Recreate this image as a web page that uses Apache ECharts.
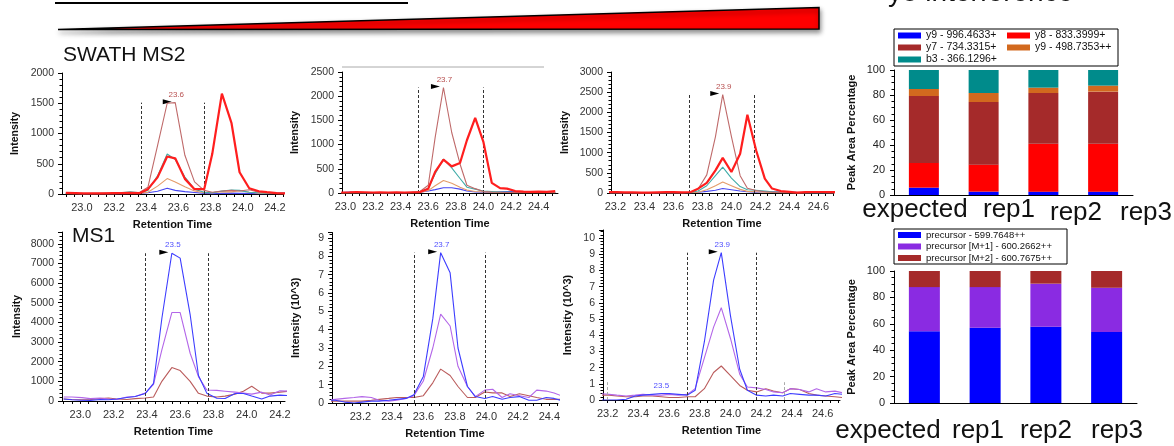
<!DOCTYPE html>
<html><head><meta charset="utf-8">
<script src="https://cdn.jsdelivr.net/npm/echarts@6/dist/echarts.min.js"></script>
<style>html,body{margin:0;padding:0;background:#fff}#c{width:1174px;height:446px}</style>
</head><body><div id="c"></div>
<script>
const FONT = "'Liberation Sans', Arial, sans-serif";

// ---------- axis tick labels ----------
const xLabelValues = [23.0, 23.2, 23.4, 23.6, 23.8, 24.0, 24.2, 24.4, 24.6];
const xTickValues = [22.9,22.95,23.0,23.05,23.1,23.15,23.2,23.25,23.3,23.35,23.4,23.45,23.5,23.55,23.6,23.65,23.7,23.75,23.8,23.85,23.9,23.95,24.0,24.05,24.1,24.15,24.2,24.25,24.3,24.35,24.4,24.45,24.5,24.55,24.6,24.65,24.7];

// ---------- SWATH MS2, rep1 ----------
const t1 = [22.90,22.96,23.01,23.07,23.13,23.19,23.24,23.30,23.36,23.41,23.47,23.53,23.58,23.64,23.70,23.76,23.81,23.87,23.93,23.98,24.04,24.10,24.15,24.21,24.27];
const s1_y8   = [20,15,10,10,10,15,15,20,15,80,275,620,590,250,80,80,660,1660,1170,360,95,45,30,15,10];
const s1_y7   = [10,5,5,10,10,5,10,20,30,110,800,1500,1510,640,200,60,30,50,60,50,70,30,20,15,10];
const s1_b3   = [10,10,5,5,10,10,20,35,20,60,300,660,570,280,80,30,20,50,65,60,30,20,15,10,10];
const s1_y9pp = [5,5,5,5,5,5,10,15,10,30,130,255,200,120,50,20,20,40,35,55,30,15,10,5,5];
const s1_y9   = [15,10,5,5,5,5,5,10,10,20,45,95,60,40,25,10,5,10,15,10,10,5,5,10,15];

// ---------- SWATH MS2, rep2 ----------
const t2 = [22.97,23.03,23.08,23.14,23.20,23.25,23.31,23.37,23.43,23.48,23.54,23.60,23.65,23.71,23.77,23.83,23.88,23.94,24.00,24.06,24.12,24.17,24.23,24.29,24.34,24.40,24.46,24.52];
const s2_y8   = [10,15,20,15,10,15,10,15,10,15,20,90,435,690,550,620,1090,1550,1050,210,100,90,40,30,25,30,25,40];
const s2_y7   = [5,5,10,10,5,5,5,10,10,15,30,160,1150,2180,1250,600,160,90,30,20,15,10,10,10,10,10,10,10];
const s2_b3   = [5,5,5,5,5,5,5,10,10,10,20,100,400,700,520,300,120,80,40,30,20,20,15,15,10,10,10,10];
const s2_y9pp = [5,5,5,5,5,5,5,5,5,5,10,50,150,260,200,120,60,30,20,15,10,10,5,5,5,5,5,5];
const s2_y9   = [10,20,10,5,5,5,5,5,5,10,15,40,70,110,110,80,40,20,15,10,25,30,30,20,15,20,20,15];

// ---------- SWATH MS2, rep3 ----------
const t3 = [23.15,23.21,23.26,23.32,23.38,23.43,23.49,23.55,23.60,23.66,23.72,23.77,23.83,23.89,23.94,24.00,24.06,24.11,24.17,24.23,24.28,24.34,24.40,24.45,24.51,24.57,24.63,24.68,24.74];
const s3_y8   = [20,20,15,15,10,10,15,20,20,15,25,107,250,560,870,520,975,1940,1060,355,110,50,30,10,20,25,25,20,20];
const s3_y7   = [5,5,5,5,5,5,5,5,10,10,20,100,450,1400,2440,1400,430,120,60,30,20,15,10,10,10,10,10,10,10];
const s3_b3   = [5,5,5,5,5,5,5,5,5,10,15,50,180,430,640,370,160,80,70,50,30,20,15,10,10,10,10,10,10];
const s3_y9pp = [5,5,5,5,5,5,5,5,5,5,10,20,80,180,270,180,90,40,30,20,15,10,10,5,5,5,5,5,5];
const s3_y9   = [10,10,10,5,5,5,5,5,5,5,10,20,40,70,110,80,50,30,20,30,30,25,20,15,10,10,10,10,10];

// ---------- MS1, rep1 ----------
const t5 = [22.90,22.95,23.01,23.06,23.12,23.17,23.22,23.28,23.33,23.39,23.44,23.49,23.55,23.60,23.66,23.71,23.76,23.82,23.87,23.93,23.98,24.03,24.09,24.14,24.20,24.25];
const m1_p0 = [100,60,40,30,80,60,100,180,230,380,900,4200,7520,7270,4400,1300,400,140,130,380,380,250,100,250,300,280];
const m1_p1 = [200,200,170,120,150,100,80,200,230,400,850,2600,4500,4500,2430,1240,560,540,500,450,400,350,450,300,520,500];
const m1_p2 = [100,80,60,80,120,150,100,80,120,150,200,1000,1700,1550,1000,390,250,200,250,350,500,750,400,400,450,500];

// ---------- MS1, rep2 (10^3) ----------
const t6 = [22.99,23.04,23.10,23.16,23.21,23.27,23.32,23.38,23.43,23.49,23.54,23.60,23.66,23.71,23.77,23.82,23.88,23.93,23.99,24.04,24.10,24.15,24.21,24.27,24.32,24.38,24.43,24.49];
const m2_p0 = [0.15,0.15,0.05,0.0,0.05,0.1,0.1,0.15,0.2,0.25,0.45,1.45,4.6,8.2,7.1,3.0,0.9,0.35,0.25,0.35,0.2,0.3,0.35,0.15,0.15,0.3,0.25,0.1];
const m2_p1 = [0.15,0.2,0.25,0.3,0.35,0.3,0.15,0.1,0.15,0.25,0.4,1.2,3.0,4.85,4.2,2.0,0.9,0.35,0.7,0.75,0.3,0.5,0.4,0.3,0.7,0.65,0.55,0.35];
const m2_p2 = [0.1,0.1,0.1,0.1,0.1,0.15,0.2,0.25,0.3,0.3,0.3,0.4,1.1,1.85,1.5,0.9,0.3,0.3,0.6,0.55,0.55,0.35,0.5,0.4,0.3,0.2,0.2,0.2];

// ---------- MS1, rep3 (10^3) ----------
const t7 = [23.15,23.21,23.26,23.32,23.38,23.43,23.49,23.55,23.60,23.66,23.72,23.77,23.83,23.89,23.94,24.00,24.06,24.11,24.17,24.23,24.28,24.34,24.39,24.45,24.51,24.56,24.62,24.68,24.73];
const m3_p0 = [0.0,0.0,0.0,0.05,0.25,0.3,0.35,0.4,0.4,0.35,0.3,0.6,3.6,7.4,9.1,5.2,1.9,0.6,0.3,0.25,0.3,0.25,0.4,0.35,0.3,0.3,0.25,0.4,0.35];
const m3_p1 = [0.4,0.35,0.3,0.25,0.3,0.35,0.3,0.3,0.35,0.3,0.35,0.7,2.6,4.5,5.7,3.8,1.6,0.8,0.75,0.65,0.5,0.45,0.7,0.65,0.5,0.7,0.5,0.55,0.45];
const m3_p2 = [0.3,0.3,0.25,0.2,0.2,0.25,0.25,0.2,0.15,0.15,0.2,0.2,0.7,1.7,2.1,1.5,0.9,0.6,0.5,0.7,0.55,0.45,0.7,0.65,0.4,0.3,0.25,0.2,0.15];

// ---------- peak annotations ----------
const peakRT     = [23.58, 23.71, 23.94, 23.55, 23.71, 23.94];
const peakHeight = [1510, 2180, 2440, 7520, 8.2, 9.1];
const peakText   = ['23.6', '23.7', '23.9', '23.5', '23.7', '23.9'];
const boundaries = [[23.37, 23.76], [23.53, 24.00], [23.71, 24.16], [23.39, 23.77], [23.54, 23.99], [23.72, 24.17]];
const minorPeak  = {rt: 23.55, height: 0.4, text: '23.5'};
const greyMarks  = [23.2, 24.35];

// ---------- bar charts ----------
const categories = ['expected', 'rep1', 'rep2', 'rep3'];
const fragNames = ['y9 - 996.4633+', 'y8 - 833.3999+', 'y7 - 734.3315+', 'y9 - 498.7353++', 'b3 - 366.1296+'];
const frag_y9   = [5.9, 2.7, 2.7, 2.7];
const frag_y8   = [19.7, 21.6, 38.4, 38.4];
const frag_y7   = [53.6, 50.1, 40.5, 41.6];
const frag_y9pp = [5.6, 7.2, 4.3, 4.8];
const frag_b3   = [15.2, 18.4, 14.1, 12.5];
const precNames = ['precursor - 599.7648++', 'precursor [M+1] - 600.2662++', 'precursor [M+2] - 600.7675++'];
const prec_m0 = [54.4, 57.0, 57.7, 53.7];
const prec_m1 = [33.4, 30.8, 32.7, 33.6];
const prec_m2 = [12.2, 12.2, 9.6, 12.7];

// ================= build option =================
const swathCol = {y9:'#4848F2', y8:'#FF1E1E', y7:'#BF6A6A', y9pp:'#E49C6A', b3:'#40ACA8'};
const ms1Col = {p0:'#3D3DFF', p1:'#B366E8', p2:'#BA5C5C'};
const barCol = {blue:'#0000FF', red:'#FF0000', brown:'#A52A2A', orange:'#D2691E', teal:'#008B8B', purple:'#8A2BE2'};

const option = {
  animation: false, backgroundColor: '#fff', textStyle: {fontFamily: FONT},
  grid: [], xAxis: [], yAxis: [], series: [], legend: [], graphic: []
};

function xy(t, v) { return t.map((x, i) => [x, v[i]]); }

function addLinePanel(gi, rect, xr, yc, t, lines, pi, labelColor) {
  option.grid.push(Object.assign({containLabel: false}, rect));
  option.xAxis.push({
    gridIndex: gi, type: 'value', min: xr[0], max: xr[1],
    axisLine: {onZero: false, lineStyle: {color: '#000', width: 1}},
    axisTick: {show: true, customValues: xTickValues, length: 3, lineStyle: {color: '#000'}},
    axisLabel: {customValues: xLabelValues, formatter: v => v.toFixed(1), fontSize: 11, color: '#333', margin: 8, fontFamily: FONT},
    splitLine: {show: false},
    name: 'Retention Time', nameLocation: 'middle', nameGap: 25,
    nameTextStyle: {fontWeight: 'bold', fontSize: 11, color: '#111', fontFamily: FONT}
  });
  option.yAxis.push({
    gridIndex: gi, type: 'value', min: 0, max: yc.max, interval: yc.interval,
    axisLine: {show: true, lineStyle: {color: '#000', width: 1}},
    axisTick: {show: true, length: 4, lineStyle: {color: '#000'}},
    minorTick: {show: true, splitNumber: 5, length: 2.5, lineStyle: {color: '#000'}},
    splitLine: {show: false},
    axisLabel: {fontSize: 10.5, color: '#333', margin: 8, fontFamily: FONT,
      formatter: v => { const r = v / yc.interval; return Math.abs(r - Math.round(r)) < 1e-6 ? String(Math.round(v)) : ''; }},
    name: yc.name, nameLocation: 'middle', nameGap: yc.gap,
    nameTextStyle: {fontWeight: 'bold', fontSize: yc.nameSize || 10.5, color: '#111', fontFamily: FONT}
  });
  lines.forEach((l, k) => {
    const s = {
      type: 'line', name: l[0], xAxisIndex: gi, yAxisIndex: gi, data: xy(t, l[3]),
      showSymbol: false, symbol: 'none', clip: true, silent: true,
      lineStyle: {color: l[1], width: l[2]}, itemStyle: {color: l[1]}, z: 2 + k
    };
    if (k === 0) {
      const b = boundaries[pi];
      const mlData = b.map(x => [{coord: [x, 0]}, {coord: [x, peakHeight[pi]]}]);
      if (pi === 5) greyMarks.forEach(x => mlData.push([{coord: [x, 0], lineStyle: {color: '#aaa'}}, {coord: [x, 1.1]}]));
      s.markLine = {silent: true, symbol: ['none', 'none'], animation: false, label: {show: false},
        lineStyle: {color: '#333', type: [3, 2], width: 1}, data: mlData};
      const mp = [
        {coord: [peakRT[pi], peakHeight[pi]], symbol: 'triangle', symbolSize: [5, 9], symbolRotate: -90,
         symbolOffset: [-8, -1], itemStyle: {color: '#000'}, label: {show: false}},
        {coord: [peakRT[pi], peakHeight[pi]], symbol: 'circle', symbolSize: 1, itemStyle: {color: 'rgba(0,0,0,0)'},
         label: {show: true, position: 'inside', offset: [1, -8], formatter: peakText[pi], color: labelColor, fontSize: 8, fontFamily: FONT}}
      ];
      if (pi === 5) mp.push({coord: [minorPeak.rt, minorPeak.height], symbol: 'circle', symbolSize: 1, itemStyle: {color: 'rgba(0,0,0,0)'},
         label: {show: true, position: 'inside', offset: [0, -8], formatter: minorPeak.text, color: labelColor, fontSize: 8, fontFamily: FONT}});
      s.markPoint = {silent: true, animation: false, data: mp};
    }
    option.series.push(s);
  });
}

function addBarPanel(gi, rect, names, cols, vals, barWidth, stack) {
  option.grid.push(Object.assign({containLabel: false}, rect));
  option.xAxis.push({
    gridIndex: gi, type: 'category', data: categories,
    axisLine: {lineStyle: {color: '#000', width: 1}},
    axisTick: {alignWithLabel: true, length: 4, lineStyle: {color: '#000'}},
    axisLabel: {show: false}, splitLine: {show: false}
  });
  option.yAxis.push({
    gridIndex: gi, type: 'value', min: 0, max: 100, interval: 20,
    axisLine: {show: true, lineStyle: {color: '#000', width: 1}},
    axisTick: {show: true, length: 4, lineStyle: {color: '#000'}},
    minorTick: {show: true, splitNumber: 4, length: 2.5, lineStyle: {color: '#000'}},
    splitLine: {show: false},
    axisLabel: {fontSize: 11, color: '#222', margin: 9, fontFamily: FONT},
    name: 'Peak Area Percentage', nameLocation: 'middle', nameGap: 37,
    nameTextStyle: {fontWeight: 'bold', fontSize: 11, color: '#111', fontFamily: FONT}
  });
  names.forEach((n, k) => {
    option.series.push({type: 'bar', name: n, xAxisIndex: gi, yAxisIndex: gi, stack, data: vals[k],
      barWidth, itemStyle: {color: cols[k]}, silent: true});
  });
}

// top row
addLinePanel(0, {left: 62, top: 73, width: 221, height: 121}, [22.876, 24.25], {max: 2000, interval: 500, name: 'Intensity', gap: 41}, t1,
  [['r1 y9', swathCol.y9, 1.1, s1_y9], ['r1 y9++', swathCol.y9pp, 1.1, s1_y9pp], ['r1 b3', swathCol.b3, 1.1, s1_b3],
   ['r1 y7', swathCol.y7, 1.1, s1_y7], ['r1 y8', swathCol.y8, 2.2, s1_y8]], 0, '#B85050');
addLinePanel(1, {left: 342, top: 72, width: 216, height: 121}, [22.975, 24.54], {max: 2500, interval: 500, name: 'Intensity', gap: 41}, t2,
  [['r2 y9', swathCol.y9, 1.1, s2_y9], ['r2 y9++', swathCol.y9pp, 1.1, s2_y9pp], ['r2 b3', swathCol.b3, 1.1, s2_b3],
   ['r2 y7', swathCol.y7, 1.1, s2_y7], ['r2 y8', swathCol.y8, 2.2, s2_y8]], 1, '#B85050');
addLinePanel(2, {left: 611, top: 72, width: 222, height: 121}, [23.17, 24.70], {max: 3000, interval: 500, name: 'Intensity', gap: 40}, t3,
  [['r3 y9', swathCol.y9, 1.1, s3_y9], ['r3 y9++', swathCol.y9pp, 1.1, s3_y9pp], ['r3 b3', swathCol.b3, 1.1, s3_b3],
   ['r3 y7', swathCol.y7, 1.1, s3_y7], ['r3 y8', swathCol.y8, 2.2, s3_y8]], 2, '#B85050');
addBarPanel(3, {left: 894, top: 70, width: 239, height: 125}, fragNames,
  [barCol.blue, barCol.red, barCol.brown, barCol.orange, barCol.teal],
  [frag_y9, frag_y8, frag_y7, frag_y9pp, frag_b3], 30, 'frag');

// bottom row
addLinePanel(4, {left: 62, top: 232, width: 223, height: 169}, [22.89, 24.23], {max: 8600, interval: 1000, name: 'Intensity', gap: 39}, t5,
  [['m1 M+2', ms1Col.p2, 1.1, m1_p2], ['m1 M+1', ms1Col.p1, 1.1, m1_p1], ['m1 M', ms1Col.p0, 1.1, m1_p0]], 3, '#5050FF');
addLinePanel(5, {left: 332, top: 232.5, width: 226, height: 170.5}, [23.02, 24.455], {max: 9.3, interval: 1, name: 'Intensity (10^3)', gap: 31, nameSize: 11}, t6,
  [['m2 M+2', ms1Col.p2, 1.1, m2_p2], ['m2 M+1', ms1Col.p1, 1.1, m2_p1], ['m2 M', ms1Col.p0, 1.1, m2_p0]], 4, '#5050FF');
addLinePanel(6, {left: 603, top: 230, width: 237, height: 170}, [23.17, 24.713], {max: 10.5, interval: 1, name: 'Intensity (10^3)', gap: 30, nameSize: 11}, t7,
  [['m3 M+2', ms1Col.p2, 1.1, m3_p2], ['m3 M+1', ms1Col.p1, 1.1, m3_p1], ['m3 M', ms1Col.p0, 1.1, m3_p0]], 5, '#5050FF');
addBarPanel(7, {left: 894, top: 271, width: 243, height: 132}, precNames,
  [barCol.blue, barCol.purple, barCol.brown], [prec_m0, prec_m1, prec_m2], 31, 'prec');

// legends
option.legend.push({
  data: fragNames, left: 894, top: 29, width: 222, orient: 'horizontal',
  itemWidth: 23, itemHeight: 6, itemGap: 1, icon: 'rect', selectedMode: false,
  padding: [1, 3, 1, 4], borderColor: '#000', borderWidth: 1, borderRadius: 0,
  textStyle: {fontSize: 10.5, color: '#111', width: 80, lineHeight: 10.5, fontFamily: FONT}
});
option.legend.push({
  data: precNames, left: 894, top: 229, orient: 'vertical',
  itemWidth: 23, itemHeight: 6, itemGap: 1.5, icon: 'rect', selectedMode: false,
  padding: [1, 3, 1, 4], borderColor: '#000', borderWidth: 1, borderRadius: 0,
  textStyle: {fontSize: 9.5, color: '#111', width: 138, lineHeight: 10, fontFamily: FONT}
});

// slide decorations and texts
const topCatPos = [[915, 210], [1009, 210], [1076, 213], [1146, 213]];
const botCatPos = [[888, 431], [978, 431], [1046, 431], [1117, 431]];
option.graphic = [
  {type: 'line', shape: {x1: 55, y1: 3, x2: 408, y2: 3}, style: {stroke: '#000', lineWidth: 2}, silent: true},
  {type: 'polygon', shape: {points: [[58, 29.5], [819, 7.5], [819, 29]]},
   style: {fill: '#FF0000', stroke: '#000', lineWidth: 1.5, shadowBlur: 5, shadowColor: 'rgba(0,0,0,0.45)', shadowOffsetX: 1, shadowOffsetY: 3}, silent: true},
  {type: 'text', style: {text: 'y8 interference', x: 888, y: 7.5, verticalAlign: 'bottom', font: '28px ' + FONT, fill: '#111'}, silent: true},
  {type: 'text', style: {text: 'SWATH MS2', x: 63, y: 55, verticalAlign: 'middle', font: '21px ' + FONT, fill: '#111'}, silent: true},
  {type: 'text', style: {text: 'MS1', x: 72, y: 236, verticalAlign: 'middle', font: '21px ' + FONT, fill: '#111'}, silent: true},
  {type: 'line', shape: {x1: 342, y1: 67, x2: 544, y2: 67}, style: {stroke: '#aaa', lineWidth: 1}, silent: true}
];
categories.forEach((c, i) => {
  option.graphic.push({type: 'text', style: {text: c, x: topCatPos[i][0], y: topCatPos[i][1], align: 'center', verticalAlign: 'middle', font: '26px ' + FONT, fill: '#111'}, silent: true});
  option.graphic.push({type: 'text', style: {text: c, x: botCatPos[i][0], y: botCatPos[i][1], align: 'center', verticalAlign: 'middle', font: '26px ' + FONT, fill: '#111'}, silent: true});
});

const chart = echarts.init(document.getElementById('c'), null, {renderer: 'canvas'});
chart.setOption(option);
</script></body></html>
